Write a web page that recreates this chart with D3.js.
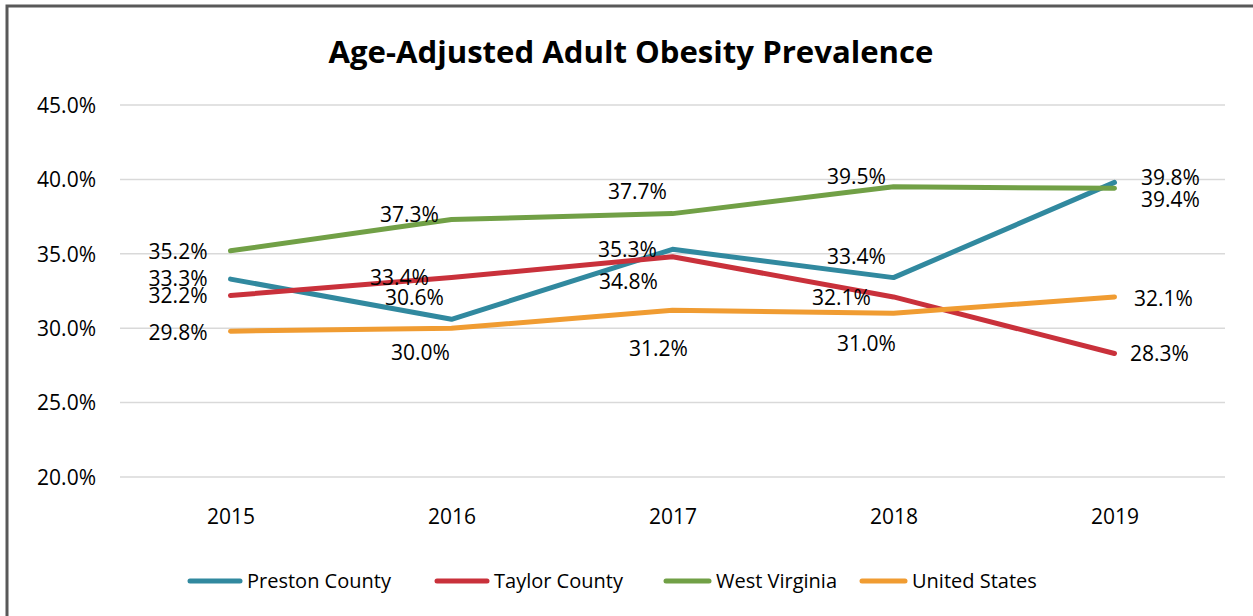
<!DOCTYPE html>
<html>
<head>
<meta charset="utf-8">
<script src="https://cdn.jsdelivr.net/npm/d3@7"></script>
<style>
  html, body { margin: 0; padding: 0; background: #fff; }
  svg { display: block; font-family: "Open Sans", "Noto Sans", sans-serif; }
</style>
</head>
<body>
<svg id="chart" width="1253" height="616"></svg>
<script>
// ---- data ----
const years = ["2015", "2016", "2017", "2018", "2019"];
const seriesNames = ["Preston County", "Taylor County", "West Virginia", "United States"];
const preston = [33.3, 30.6, 35.3, 33.4, 39.8];
const taylor  = [32.2, 33.4, 34.8, 32.1, 28.3];
const westVirginia = [35.2, 37.3, 37.7, 39.5, 39.4];
const unitedStates = [29.8, 30.0, 31.2, 31.0, 32.1];
const yTicks = [20, 25, 30, 35, 40, 45];
const title = "Age-Adjusted Adult Obesity Prevalence";

// ---- layout / style (kept apart from data) ----
const colors = ["#31899f", "#c9313b", "#71a046", "#f09c32"];
// data-label offsets (dx, dy) relative to each point, per series
const labelOffsets = [
  [[-52, 0], [-37, -22], [-45, 0], [-37, -21], [56, -5]],
  [[-52, 0], [-52, 0], [-44, 25], [-52, 1], [45, 0]],
  [[-52, 1], [-42, -5], [-35, -22], [-37, -10], [56, 11]],
  [[-52, 1], [-31, 24], [-14, 38], [-27, 30], [49, 2]]
];
const legendX = [188, 435, 664, 860];
const legendLen = [54, 54, 47, 47];

const svg = d3.select("#chart");
const W = 1253, H = 616;
const FS = 21;

// border
svg.append("path")
  .attr("d", `M7,${H + 5} L7,6 L${W + 5},6`)
  .attr("fill", "none").attr("stroke", "#595959").attr("stroke-width", 3);

const x = d3.scalePoint().domain(years).range([120, 1225]).padding(0.5);
const y = d3.scaleLinear().domain([20, 45]).range([477, 105]);

// gridlines
svg.append("g").selectAll("line").data(yTicks).join("line")
  .attr("x1", 120).attr("x2", 1225)
  .attr("y1", d => y(d)).attr("y2", d => y(d))
  .attr("stroke", "#d9d9d9").attr("stroke-width", 1.5);

// y axis labels
const yAxis = d3.axisLeft(y).tickValues(yTicks).tickFormat(d => d3.format(".1f")(d) + "%").tickSize(0).tickPadding(0);
const gy = svg.append("g").attr("transform", "translate(96,0)").call(yAxis);
gy.select(".domain").remove();
gy.selectAll("text").attr("font-size", FS).attr("fill", "#000").attr("font-family", "'Open Sans', sans-serif").attr("dy", "0.35em");

// x axis labels
const xAxis = d3.axisBottom(x).tickSize(0).tickPadding(0);
const gx = svg.append("g").attr("transform", "translate(0,509)").call(xAxis);
gx.select(".domain").remove();
gx.selectAll("text").attr("font-size", FS).attr("fill", "#000").attr("font-family", "'Open Sans', sans-serif");

// title
const t = svg.append("text").attr("x", 631).attr("y", 63).attr("text-anchor", "middle")
  .attr("font-weight", "bold").attr("font-size", 32).attr("fill", "#000").text(title);
const tl = t.node().getComputedTextLength();
t.attr("font-size", 32 * 605 / tl);

// lines
const allSeries = [preston, taylor, westVirginia, unitedStates];
const line = d3.line().x((d, i) => x(years[i])).y(d => y(d));
svg.append("g").selectAll("path").data(allSeries).join("path")
  .attr("d", d => line(d))
  .attr("fill", "none")
  .attr("stroke", (d, i) => colors[i])
  .attr("stroke-width", 5)
  .attr("stroke-linecap", "round")
  .attr("stroke-linejoin", "round");

// data labels
const lg = svg.append("g");
allSeries.forEach((s, si) => {
  s.forEach((v, i) => {
    const [dx, dy] = labelOffsets[si][i];
    const px = x(years[i]), py = y(v);
    const txt = lg.append("text")
      .attr("font-size", FS).attr("fill", "#000")
      .attr("dy", "0.35em")
      .text(d3.format(".1f")(v) + "%");
    if (i === 0) {
      txt.attr("x", px - 23).attr("y", py + dy).attr("text-anchor", "end");
    } else {
      txt.attr("x", px + dx).attr("y", py + dy).attr("text-anchor", "middle");
    }
  });
});

// legend
const legend = svg.append("g");
const ly = 581;
seriesNames.forEach((name, i) => {
  const lx = legendX[i], len = legendLen[i];
  legend.append("line")
    .attr("x1", lx + 2).attr("x2", lx + len - 2).attr("y1", ly).attr("y2", ly)
    .attr("stroke", colors[i]).attr("stroke-width", 5).attr("stroke-linecap", "round");
  legend.append("text").attr("x", lx + len + 5).attr("y", ly).attr("dy", "0.35em")
    .attr("font-size", 20).attr("fill", "#000").text(name);
});
</script>
</body>
</html>
